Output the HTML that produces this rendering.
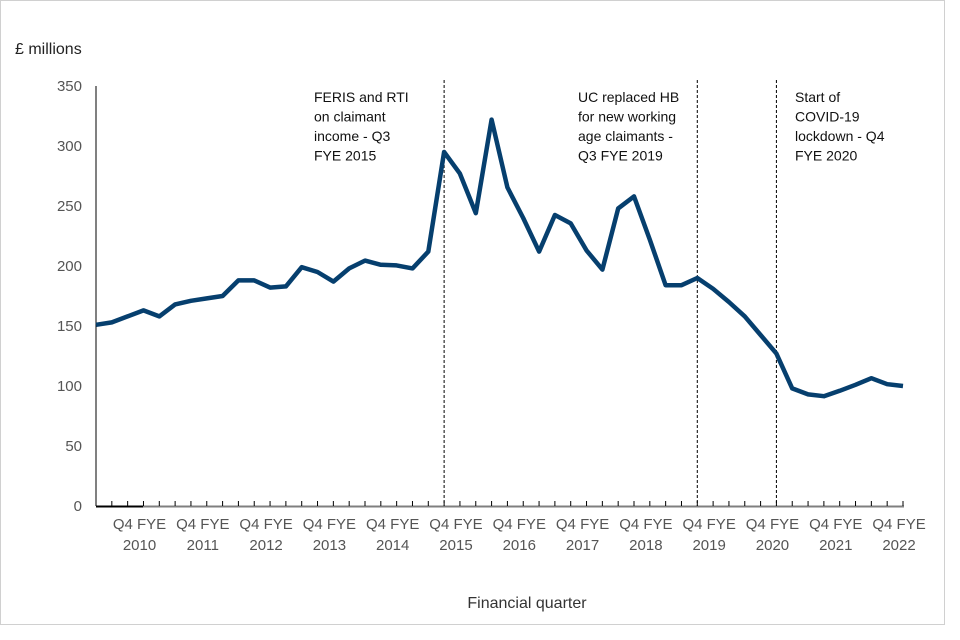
<!DOCTYPE html>
<html><head><meta charset="utf-8"><style>
body{margin:0;background:#fff;}
svg{display:block;font-family:"Liberation Sans",Arial,sans-serif;}
</style></head><body>
<svg width="960" height="640" viewBox="0 0 960 640">
<rect x="0.5" y="0.5" width="944" height="624" fill="#fff" stroke="#d0d0d0"/>
<text x="15" y="54" font-size="16" fill="#222">£ millions</text>
<text x="527" y="608" font-size="16" fill="#333" text-anchor="middle">Financial quarter</text>
<g id="yticks"></g>
<g id="xlabels"></g>
<g id="annos"></g>
<g id="axes"></g>
<path id="series" fill="none" stroke="#063f6e" stroke-width="4.5" stroke-linejoin="round"/>
</svg>
<script>
const values = [151,153,158,163,158,168,171,173,175,188,188,182,183,199,195,187,198,204.5,201,200.5,198,212,295,277,244,322,265.5,240,212,242.5,235.5,213,197,248,258,222,184,184,190,181,170,158,142.5,127,98,93,91.5,96,101,106.5,101.5,100];
const yTicks = [0,50,100,150,200,250,300,350];
const years = ["2010","2011","2012","2013","2014","2015","2016","2017","2018","2019","2020","2021","2022"];
const eventIdx = [22,38,43];
const eventText = [["FERIS and RTI","on claimant","income - Q3","FYE 2015"],["UC replaced HB","for new working","age claimants -","Q3 FYE 2019"],["Start of","COVID-19","lockdown - Q4","FYE 2020"]];
const NS="http://www.w3.org/2000/svg";
const x0=96,x1=903,y0=506,yTop=86,ymax=350;
const X=i=>x0+(x1-x0)*i/(values.length-1);
const Y=v=>y0-(y0-yTop)*v/ymax;
function mk(t,a,p){const e=document.createElementNS(NS,t);for(const k in a)e.setAttribute(k,a[k]);p.appendChild(e);return e;}
const yt=document.getElementById('yticks');
yTicks.forEach(v=>{const t=mk('text',{x:82,y:Y(v)+5,'font-size':15,fill:'#555','text-anchor':'end'},yt);t.textContent=v;

});
const ax=document.getElementById('axes');
const ya=mk('line',{x1:x0,y1:yTop,x2:x0,y2:y0,stroke:'#000','stroke-width':1},ax);


const xa=mk('line',{x1:x0,y1:y0+0.5,x2:x1+1,y2:y0+0.5,stroke:'#7f7f7f','stroke-width':2},ax);


mk('line',{x1:x0,y1:y0+0.5,x2:143,y2:y0+0.5,stroke:'#000','stroke-width':2},ax);
values.forEach((v,i)=>{const tk=mk('line',{x1:X(i),y1:y0,x2:X(i),y2:y0-5,stroke:'#000','stroke-width':1},ax);

});
const xl=document.getElementById('xlabels');
years.forEach((yr,k)=>{const cx=X(2.75+4*k);
const t=mk('text',{x:cx,y:529,'font-size':15,fill:'#555','text-anchor':'middle'},xl);t.textContent='Q4 FYE';


const t2=mk('text',{x:cx,y:550,'font-size':15,fill:'#555','text-anchor':'middle'},xl);t2.textContent=yr;

});
const an=document.getElementById('annos');
eventIdx.forEach((ix,k)=>{const lx=X(ix);
const l=mk('line',{x1:lx,y1:80,x2:lx,y2:y0,stroke:'#000','stroke-width':1,'stroke-dasharray':'3,2'},an);


const t=mk('text',{x:lx-130,y:102,'font-size':14,fill:'#111'},an);


eventText[k].forEach((s,j)=>{const ts=mk('tspan',{x:[314,578,795][k],dy:j?19.5:0},t);ts.textContent=s;});});
document.getElementById('series').setAttribute('d',values.map((v,i)=>(i?'L':'M')+X(i).toFixed(1)+','+Y(v).toFixed(1)).join(''));
</script>
</body></html>
